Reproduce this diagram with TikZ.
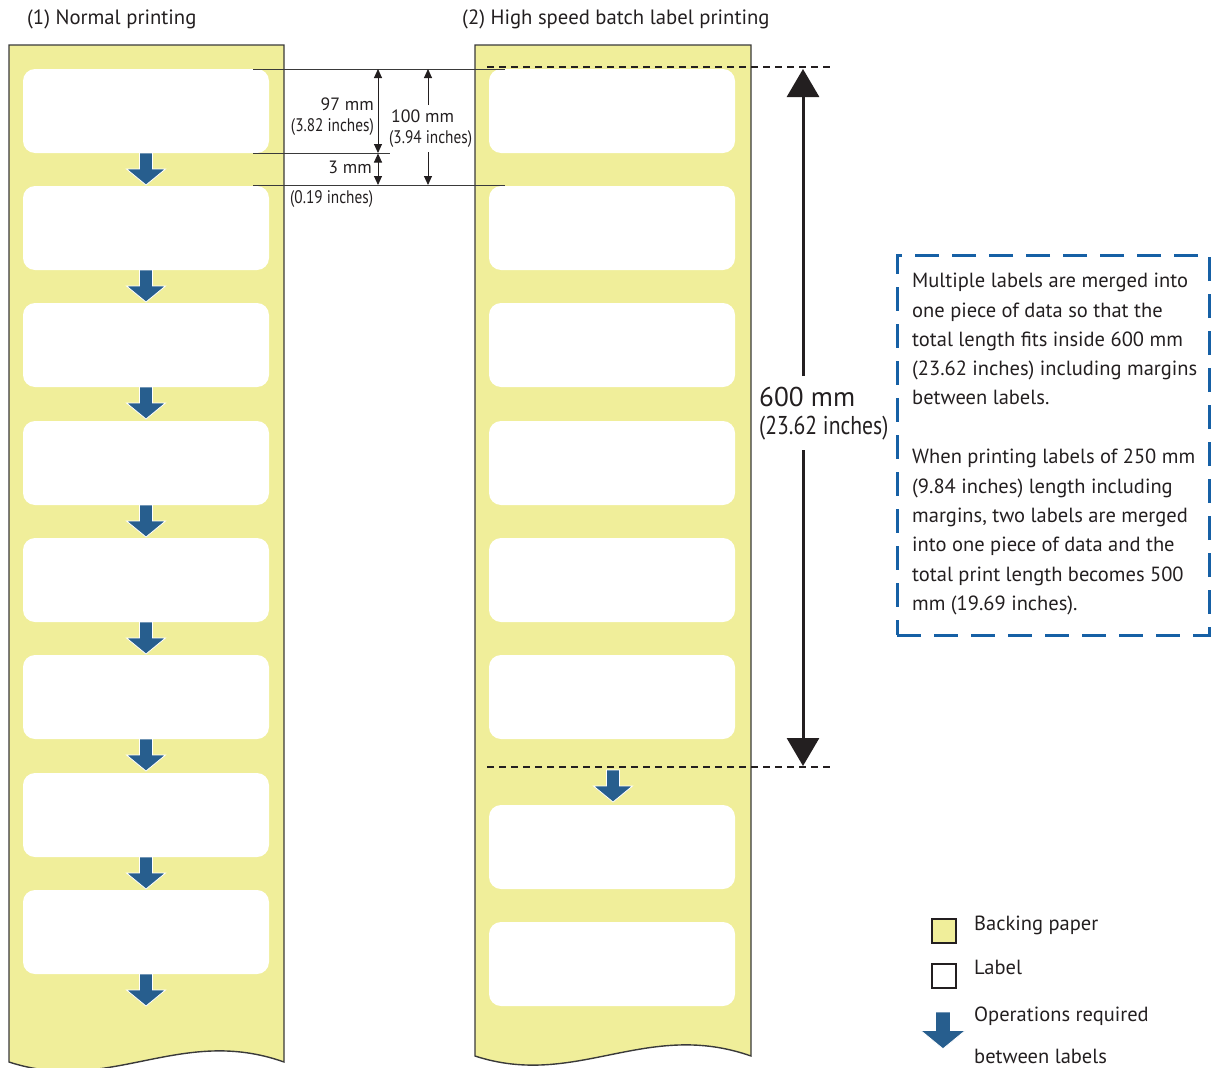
\documentclass[tikz,border=0pt]{standalone}
\usepackage{fontspec}
\setmainfont{PT Sans}
\newfontfamily\condfont[FakeStretch=0.84]{PT Sans}
\usetikzlibrary{arrows.meta}
\definecolor{backing}{HTML}{F0EE9A}
\definecolor{opblue}{HTML}{275E8E}
\definecolor{boxblue}{HTML}{1660A5}
\definecolor{ink}{HTML}{231F20}
\definecolor{edge}{HTML}{3A3A3A}
\begin{document}
\begin{tikzpicture}[x=1pt,y=-1pt,
  every node/.style={text=ink},
  strip/.style={fill=backing,draw=edge,line width=1.4pt},
  lab/.style={fill=white,rounded corners=12pt,minimum width=246pt,minimum height=84pt,inner sep=0pt},
  dimline/.style={draw=edge,line width=0.9pt},
  dimarrow/.style={draw=ink,line width=0.9pt,-{Triangle[width=8pt,length=9pt]}},
  bigarrow/.style={draw=ink,line width=3pt,-{Triangle[width=32pt,length=28pt]}},
  cut/.style={draw=ink,line width=1.2pt,dash pattern=on 7pt off 5pt},
  title/.style={font=\fontsize{20.7}{24}\selectfont,anchor=mid west,inner sep=0pt},
  dimtxt/.style={font=\fontsize{17.8}{21}\selectfont,inner sep=0pt},
  dimsub/.style={font=\condfont\fontsize{18.2}{21}\selectfont,inner sep=0pt},
  boxtxt/.style={font=\fontsize{20.5}{24}\selectfont,anchor=mid west,inner sep=0pt},
  legsq/.style={draw=ink,line width=1.5pt,minimum size=24pt,inner sep=0pt},
  oparrow/.pic={\filldraw[fill=opblue,draw=white,line width=0.8pt]
     (-6.5,0) -- (6.5,0) -- (6.5,16) -- (19.5,16) -- (0,32) -- (-19.5,16) -- (-6.5,16) -- cycle;}
]
\useasboundingbox (0,0) rectangle (1211,1068);

% titles
\node[title] (t1) at (27,22) {(1) Normal printing};
\node[title] (t2) at (462,22) {(2) High speed batch label printing};

% strips
\path[strip] (9,45) -- (9,1062) .. controls (110,1095) and (180,1025) .. (284,1062) -- (284,45) -- cycle;
\path[strip] (475,45) -- (475,1056) .. controls (576,1089) and (646,1019) .. (751,1056) -- (751,45) -- cycle;

% left labels and arrows
\foreach \i/\y in {1/111,2/228,3/345,4/463,5/580,6/697,7/815,8/932}{
  \node[lab] (L\i) at (146,\y) {};
  \pic at (146,\y+42) {oparrow};
}
% right labels
\foreach \i/\y in {1/111,2/228,3/345,4/463,5/580,6/697,7/847,8/964}{
  \node[lab] (R\i) at (612,\y) {};
}
\pic at (613,770) {oparrow};

% dimension reference lines
\coordinate (a0) at (253,69);  \coordinate (a1) at (505,69);
\coordinate (b0) at (253,153); \coordinate (b1) at (390,153);
\coordinate (c0) at (253,185); \coordinate (c1) at (505,185);
\draw[dimline] (a0) -- (a1);
\draw[dimline] (b0) -- (b1);
\draw[dimline] (c0) -- (c1);

% 97 mm
\coordinate (d97m) at (378,111);
\draw[dimarrow] (d97m) -- (378,69);
\draw[dimarrow] (d97m) -- (378,153);
% 3 mm
\coordinate (d3m) at (378,169);
\draw[dimarrow] (d3m) -- (378,153.5);
\draw[dimarrow] (d3m) -- (378,185);
% 100 mm
\coordinate (d100a) at (428,105);
\coordinate (d100b) at (428,152);
\draw[dimarrow] (d100a) -- (428,69);
\draw[dimarrow] (d100b) -- (428,185);

\node[dimtxt,anchor=mid east] (n97) at (374,108) {97 mm};
\node[dimsub,anchor=mid east] (n97i) at (374,129) {(3.82 inches)};
\node[dimtxt,anchor=mid west] (n100) at (391,120) {100 mm};
\node[dimsub,anchor=mid west] (n100i) at (389,141) {(3.94 inches)};
\node[dimtxt,anchor=mid east] (n3) at (372,171) {3 mm};
\node[dimsub,anchor=mid west] (n3i) at (290,201) {(0.19 inches)};

% 600 mm
\coordinate (ct0) at (487,67);  \coordinate (ct1) at (830,67);
\coordinate (cb0) at (487,767); \coordinate (cb1) at (830,767);
\draw[cut] (ct0) -- (ct1);
\draw[cut] (cb0) -- (cb1);
\coordinate (g1) at (803,376);
\coordinate (g2) at (803,450);
\draw[bigarrow] (g1) -- (803,69);
\draw[bigarrow] (g2) -- (803,766);
\node[font=\fontsize{27.2}{31}\selectfont,anchor=mid west,inner sep=0pt] (n600) at (759,404) {600 mm};
\node[font=\condfont\fontsize{25.8}{30}\selectfont,anchor=mid west,inner sep=0pt] (n600i) at (759,432) {(23.62 inches)};

% dashed note box
\node[draw=boxblue,line width=3pt,dash pattern=on 24pt off 13pt,minimum width=312pt,minimum height=380pt,inner sep=0pt] (note) at (1053,445) {};
\node[boxtxt] (m1) at (912,285) {Multiple labels are merged into};
\node[boxtxt] (m2) at (912,315) {one piece of data so that the};
\node[boxtxt] (m3) at (912,344) {total length fits inside 600 mm};
\node[boxtxt] (m4) at (912,373) {(23.62 inches) including margins};
\node[boxtxt] (m5) at (912,402) {between labels.};
\node[boxtxt] (m6) at (912,461) {When printing labels of 250 mm};
\node[boxtxt] (m7) at (912,491) {(9.84 inches) length including};
\node[boxtxt] (m8) at (912,520) {margins, two labels are merged};
\node[boxtxt] (m9) at (912,549) {into one piece of data and the};
\node[boxtxt] (m10) at (912,579) {total print length becomes 500};
\node[boxtxt] (m11) at (912,608) {mm (19.69 inches).};

% legend
\node[legsq,fill=backing] (k1) at (944,931) {};
\node[legsq,fill=white] (k2) at (944,976) {};
\pic[scale=1.15] at (943,1012) {oparrow};
\node[boxtxt] (lk1) at (974,928) {Backing paper};
\node[boxtxt] (lk2) at (974,972) {Label};
\node[boxtxt] (lk3) at (974,1019) {Operations required};
\node[boxtxt] (lk4) at (974,1061) {between labels};
\end{tikzpicture}
\end{document}
